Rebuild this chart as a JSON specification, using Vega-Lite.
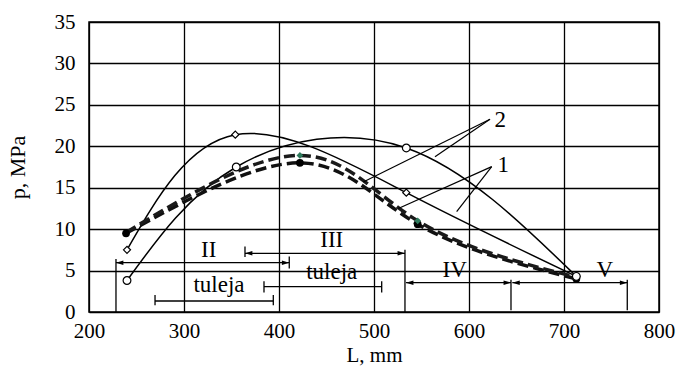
{
  "$schema": "https://vega.github.io/schema/vega-lite/v6.json",
  "width": 570,
  "height": 290,
  "autosize": {"type": "none"},
  "padding": {"left": 89, "top": 22, "right": 22, "bottom": 57},
  "background": "white",
  "config": {
    "view": {"stroke": "black", "strokeWidth": 1.5},
    "font": "Liberation Serif, Times New Roman, DejaVu Serif, serif",
    "text": {"font": "Liberation Serif, Times New Roman, DejaVu Serif, serif", "fontSize": 23, "color": "black"}
  },
  "datasets": {
    "c1": [{"L": 240, "p": 7.5}, {"L": 354, "p": 21.4}, {"L": 534, "p": 14.4}, {"L": 713, "p": 4.3}],
    "c2": [{"L": 240, "p": 3.8}, {"L": 355, "p": 17.5}, {"L": 534, "p": 19.8}, {"L": 713, "p": 4.3}],
    "c3": [{"L": 239, "p": 9.5}, {"L": 422, "p": 18.0}, {"L": 546, "p": 10.6}, {"L": 713, "p": 4.0}],
    "c4": [{"L": 239, "p": 9.6}, {"L": 422, "p": 18.9}, {"L": 546, "p": 11.0}, {"L": 713, "p": 4.2}],
    "rules": [
      {"L": 228.4, "p": 5.95, "L2": 410.8, "p2": 5.95},
      {"L": 228.4, "p": 6.4, "L2": 228.4, "p2": 0},
      {"L": 410.8, "p": 6.7, "L2": 410.8, "p2": 5.25},
      {"L": 364.2, "p": 7.08, "L2": 532.6, "p2": 7.08},
      {"L": 364.2, "p": 7.9, "L2": 364.2, "p2": 6.65},
      {"L": 532.6, "p": 7.5, "L2": 532.6, "p2": 0},
      {"L": 533.7, "p": 3.54, "L2": 644.2, "p2": 3.54},
      {"L": 644.2, "p": 3.9, "L2": 644.2, "p2": 0.2},
      {"L": 645.6, "p": 3.54, "L2": 766.6, "p2": 3.54},
      {"L": 766.6, "p": 3.9, "L2": 766.6, "p2": 0.2},
      {"L": 269.5, "p": 1.33, "L2": 394, "p2": 1.33},
      {"L": 269.5, "p": 2.05, "L2": 269.5, "p2": 0.8},
      {"L": 394, "p": 2.05, "L2": 394, "p2": 0.8},
      {"L": 384.2, "p": 3.06, "L2": 508.1, "p2": 3.06},
      {"L": 384.2, "p": 3.7, "L2": 384.2, "p2": 2.35},
      {"L": 508.1, "p": 3.7, "L2": 508.1, "p2": 2.35}
    ],
    "leaders": [
      {"L": 622.1, "p": 23.26, "L2": 488.7, "p2": 15.7},
      {"L": 622.1, "p": 23.26, "L2": 564.2, "p2": 18.75},
      {"L": 623.9, "p": 17.54, "L2": 525.6, "p2": 12.5},
      {"L": 623.9, "p": 17.54, "L2": 587.0, "p2": 12.1}
    ],
    "arrows": [
      {"L": 228.4, "p": 5.95, "dir": "l"},
      {"L": 410.8, "p": 5.95, "dir": "r"},
      {"L": 364.2, "p": 7.08, "dir": "l"},
      {"L": 532.6, "p": 7.08, "dir": "r"},
      {"L": 533.7, "p": 3.54, "dir": "l"},
      {"L": 644.2, "p": 3.54, "dir": "r"},
      {"L": 645.6, "p": 3.54, "dir": "l"},
      {"L": 766.6, "p": 3.54, "dir": "r"}
    ],
    "labels": [
      {"L": 326, "p": 7.5, "text": "II"},
      {"L": 455.5, "p": 8.7, "text": "III"},
      {"L": 585, "p": 5.07, "text": "IV"},
      {"L": 743, "p": 5.07, "text": "V"},
      {"L": 336.8, "p": 3.26, "text": "tuleja"},
      {"L": 455.5, "p": 4.86, "text": "tuleja"},
      {"L": 633, "p": 23.2, "text": "2"},
      {"L": 636, "p": 17.7, "text": "1"}
    ]
  },
  "encoding": {
    "x": {
      "field": "L", "type": "quantitative",
      "scale": {"domain": [200, 800], "nice": false, "zero": false},
      "axis": {
        "values": [200, 300, 400, 500, 600, 700, 800],
        "grid": true, "gridColor": "black", "gridWidth": 1.3, "gridOpacity": 1,
        "domain": false, "ticks": false,
        "labelFont": "Liberation Serif, Times New Roman, serif", "labelFontSize": 21, "labelColor": "black", "labelPadding": 8,
        "labelFlush": false,
        "title": "L, mm", "titleFont": "Liberation Serif, Times New Roman, serif", "titleFontSize": 21, "titleFontWeight": "normal",
        "titleColor": "black", "titlePadding": 3
      }
    },
    "y": {
      "field": "p", "type": "quantitative",
      "scale": {"domain": [0, 35], "nice": false},
      "axis": {
        "values": [0, 5, 10, 15, 20, 25, 30, 35],
        "grid": true, "gridColor": "black", "gridWidth": 1.3, "gridOpacity": 1,
        "domain": false, "ticks": false,
        "labelFont": "Liberation Serif, Times New Roman, serif", "labelFontSize": 21, "labelColor": "black", "labelPadding": 14,
        "labelFlush": false,
        "title": "p, MPa", "titleFont": "Liberation Serif, Times New Roman, serif", "titleFontSize": 22, "titleFontWeight": "normal",
        "titleColor": "black", "titlePadding": 25
      }
    }
  },
  "layer": [
    {"data": {"name": "c1"}, "mark": {"type": "line", "interpolate": "natural", "color": "black", "strokeWidth": 1.5}},
    {"data": {"name": "c2"}, "mark": {"type": "line", "interpolate": "natural", "color": "black", "strokeWidth": 1.5}},
    {"data": {"name": "c3"}, "mark": {"type": "line", "interpolate": "natural", "color": "#111111", "strokeWidth": 3.5, "strokeDash": [11, 5]}},
    {"data": {"name": "c4"}, "mark": {"type": "line", "interpolate": "natural", "color": "#1a1a1a", "strokeWidth": 3.5, "strokeDash": [11, 5]}},
    {"data": {"name": "rules"}, "mark": {"type": "rule", "color": "black", "strokeWidth": 1.3}, "encoding": {"x2": {"field": "L2"}, "y2": {"field": "p2"}}},
    {"data": {"name": "leaders"}, "mark": {"type": "rule", "color": "black", "strokeWidth": 1.2}, "encoding": {"x2": {"field": "L2"}, "y2": {"field": "p2"}}},
    {"data": {"name": "arrows"}, "mark": {"type": "point", "filled": true, "color": "black", "size": 55, "opacity": 1},
      "encoding": {"shape": {"field": "dir", "type": "nominal", "legend": null,
        "scale": {"domain": ["l", "r"], "range": ["M0,0L2,-0.6L2,0.6Z", "M0,0L-2,-0.6L-2,0.6Z"]}}}},
    {"data": {"name": "c3"}, "mark": {"type": "point", "shape": "circle", "filled": true, "color": "black", "size": 60, "opacity": 1}},
    {"data": {"name": "c4"}, "transform": [{"filter": "datum.L > 300 && datum.L < 700"}], "mark": {"type": "point", "shape": "diamond", "filled": true, "color": "#2e7a5c", "size": 45, "opacity": 1}},
    {"data": {"name": "c1"}, "mark": {"type": "point", "shape": "diamond", "filled": true, "fill": "white", "stroke": "black", "strokeWidth": 1.2, "size": 50, "opacity": 1}},
    {"data": {"name": "c2"}, "mark": {"type": "point", "shape": "circle", "filled": true, "fill": "white", "stroke": "black", "strokeWidth": 1.2, "size": 60, "opacity": 1}},
    {"data": {"name": "labels"}, "mark": {"type": "text", "font": "Liberation Serif, Times New Roman, DejaVu Serif, serif", "fontSize": 23, "color": "black", "baseline": "middle", "align": "center"}, "encoding": {"text": {"field": "text"}}}
  ]
}
